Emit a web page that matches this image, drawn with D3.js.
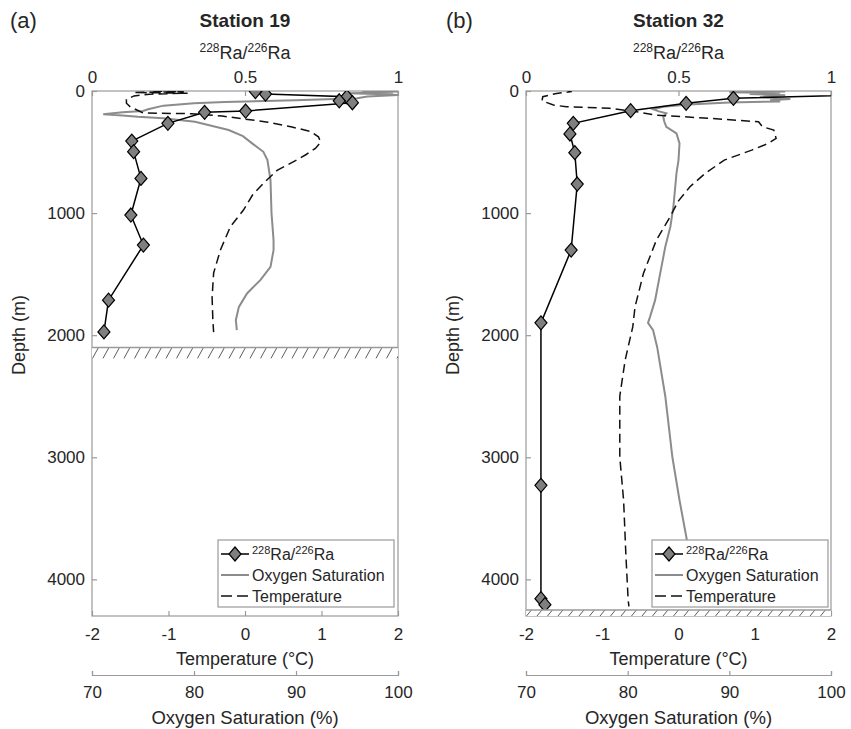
<!DOCTYPE html>
<html><head><meta charset="utf-8">
<script src="https://cdn.jsdelivr.net/npm/d3@7"></script>
<style>
html,body{margin:0;padding:0;background:#fff;}
text{font-family:"Liberation Sans",Arial,Helvetica,sans-serif;fill:#262626;}
</style></head>
<body><svg id="chart" width="851" height="729"></svg>
<script>
// ---------- data ----------
const depthTicks = [0, 1000, 2000, 3000, 4000];
const raTicks = [0, 0.5, 1];
const tempTicks = [-2, -1, 0, 1, 2];
const oxyTicks = [70, 80, 90, 100];
const panelLetters = ["(a)", "(b)"];
const stationNames = ["Station 19", "Station 32"];

// Station 19
const s19RaDepth = [5, 25, 47, 80, 96, 164, 175, 265, 410, 497, 716, 1016, 1262, 1713, 1973];
const s19Ra      = [0.534, 0.567, 0.833, 0.808, 0.851, 0.502, 0.368, 0.248, 0.130, 0.136, 0.160, 0.127, 0.168, 0.054, 0.039];
const s19TempDepth = [0, 6, 12, 18, 26, 40, 70, 100, 130, 160, 180, 186, 205, 230, 255, 293, 330, 375, 420, 470, 520, 570, 650, 750, 850, 975, 1110, 1300, 1490, 1690, 1880, 1975];
const s19Temp      = [-1.2, -0.8, -1.45, -0.75, -1.25, -1.45, -1.55, -1.55, -1.5, -1.4, -1.33, -0.7, -0.3, 0.0, 0.3, 0.6, 0.85, 0.96, 0.99, 0.92, 0.8, 0.66, 0.42, 0.25, 0.1, -0.02, -0.19, -0.32, -0.41, -0.43, -0.42, -0.41];
const s19OxyDepth = [0, 4, 8, 12, 18, 25, 33, 45, 60, 75, 90, 101, 120, 150, 164, 175, 191, 200, 211, 224, 252, 290, 320, 370, 429, 498, 566, 730, 1002, 1221, 1303, 1440, 1549, 1658, 1768, 1877, 1959];
const s19Oxy      = [96.5, 100, 97, 99.5, 95, 98, 100, 97, 96, 90, 83, 80, 77, 75.5, 75, 73, 71.1, 73, 74.5, 77, 80.1, 82, 83.4, 84.8, 85.7, 86.8, 87.2, 87.5, 87.6, 87.8, 87.8, 87.5, 86.5, 85.2, 84.4, 84.1, 84.2];
const s19Seafloor = [2100, 2190];

// Station 32
const s32RaDepth = [10, 60, 101, 161, 265, 352, 505, 762, 1303, 1899, 3230, 4158, 4207];
const s32Ra      = [1.44, 0.680, 0.525, 0.343, 0.155, 0.144, 0.160, 0.168, 0.148, 0.049, 0.049, 0.049, 0.062];
const s32TempDepth = [0, 5, 20, 47, 80, 115, 129, 142, 165, 197, 224, 252, 293, 320, 388, 429, 484, 566, 675, 784, 900, 1030, 1221, 1494, 1768, 1932, 2205, 2500, 3000, 3352, 3800, 4172, 4221];
const s32Temp      = [-1.45, -1.4, -1.6, -1.78, -1.79, -1.64, -1.47, -0.9, -0.6, -0.3, 0.41, 1.05, 1.1, 1.25, 1.28, 1.18, 0.96, 0.6, 0.35, 0.15, 0.0, -0.11, -0.29, -0.46, -0.57, -0.6, -0.7, -0.77, -0.77, -0.72, -0.69, -0.66, -0.65];
const s32OxyDepth = [0, 5, 10, 15, 25, 35, 50, 65, 75, 85, 95, 110, 130, 150, 165, 183, 211, 250, 293, 347, 429, 566, 675, 948, 1112, 1276, 1494, 1713, 1850, 1899, 1959, 2096, 2500, 3000, 3352, 3667, 4200];
const s32Oxy      = [93, 95.5, 90, 95, 92, 95.5, 93, 96, 94, 95, 90, 86, 83.5, 82.5, 83, 83.8, 83.5, 83.6, 83.8, 84.8, 85.1, 85.0, 84.8, 84.5, 84.2, 83.7, 83.2, 82.7, 82.2, 82.0, 82.5, 82.9, 83.7, 84.4, 85.1, 85.8, 86.6];
const s32Seafloor = [4250, 4300];

const legendLabels = ["Ra", "Oxygen Saturation", "Temperature"];

// ---------- drawing ----------
const svg = d3.select("#chart");
const FONT = '"Liberation Sans",Arial,Helvetica,sans-serif';
const BOXC = "#9a9a9a";
const plainNum = d => String(d);
const panels = [
  {x0: 92, x1: 398, labelX: 10, ylabX: 25, legX: 218,
   ra: s19Ra, raD: s19RaDepth, t: s19Temp, tD: s19TempDepth, o: s19Oxy, oD: s19OxyDepth, floor: s19Seafloor},
  {x0: 526, x1: 831, labelX: 446, ylabX: 459, legX: 652,
   ra: s32Ra, raD: s32RaDepth, t: s32Temp, tD: s32TempDepth, o: s32Oxy, oD: s32OxyDepth, floor: s32Seafloor}
];
const yTop = 91, yBot = 616;
const y = d3.scaleLinear().domain([0, 4300]).range([yTop, yBot]);

function raLabel(sel, x, yy, size, supSize, anchor) {
  const t = sel.append("text").attr("x", x).attr("y", yy).attr("text-anchor", anchor)
    .attr("font-size", size);
  t.append("tspan").attr("font-size", supSize).attr("dy", -size*0.4).text("228");
  t.append("tspan").attr("dy", size*0.4).text("Ra/");
  t.append("tspan").attr("font-size", supSize).attr("dy", -size*0.4).text("226");
  t.append("tspan").attr("dy", size*0.4).text("Ra");
  return t;
}

panels.forEach((p, i) => {
  const g = svg.append("g");
  const xRa = d3.scaleLinear().domain([0, 1]).range([p.x0, p.x1]);
  const xT = d3.scaleLinear().domain([-2, 2]).range([p.x0, p.x1]);
  const xO = d3.scaleLinear().domain([70, 100]).range([p.x0, p.x1]);
  const cx = (p.x0 + p.x1) / 2;

  const clipId = "clip" + i;
  svg.append("clipPath").attr("id", clipId).append("rect")
    .attr("x", p.x0).attr("y", yTop).attr("width", p.x1 - p.x0).attr("height", yBot - yTop);

  // panel letter & title
  g.append("text").attr("x", p.labelX).attr("y", 28).attr("font-size", 22).text(panelLetters[i]);
  g.append("text").attr("x", cx).attr("y", 27).attr("text-anchor", "middle")
    .attr("font-size", 19).attr("font-weight", "bold").text(stationNames[i]);
  raLabel(g, cx, 59, 18, 12, "middle");

  // plot area box
  g.append("rect").attr("x", p.x0).attr("y", yTop).attr("width", p.x1 - p.x0).attr("height", yBot - yTop)
    .attr("fill", "#fff").attr("stroke", BOXC).attr("stroke-width", 1.2);

  // axes
  const ax = (a) => a.tickSizeOuter(0);
  const left = g.append("g").attr("transform", `translate(${p.x0},0)`)
    .call(ax(d3.axisLeft(y).tickValues(depthTicks).tickSize(-5).tickPadding(7).tickFormat(plainNum)));
  const top = g.append("g").attr("transform", `translate(0,${yTop})`)
    .call(ax(d3.axisTop(xRa).tickValues(raTicks).tickSize(-5).tickPadding(8).tickFormat(plainNum)));
  const bot = g.append("g").attr("transform", `translate(0,${yBot})`)
    .call(ax(d3.axisBottom(xT).tickValues(tempTicks).tickSize(-5).tickPadding(12).tickFormat(plainNum)));
  const oxy = g.append("g").attr("transform", `translate(0,675)`)
    .call(d3.axisBottom(xO).tickValues(oxyTicks).tickSize(-4).tickSizeOuter(-4).tickPadding(11).tickFormat(plainNum));
  [left, top, bot].forEach(a => a.select(".domain").remove());
  [left, top, bot, oxy].forEach(a => {
    a.selectAll("line").attr("stroke", BOXC).attr("stroke-width", 1.2);
    a.selectAll("text").attr("font-size", 17).attr("font-family", FONT).attr("fill", "#262626");
  });
  oxy.select(".domain").attr("stroke", BOXC).attr("stroke-width", 1.2);

  g.append("text").attr("x", cx).attr("y", 665).attr("text-anchor", "middle").attr("font-size", 18)
    .text("Temperature (\u00B0C)");
  g.append("text").attr("x", cx).attr("y", 724).attr("text-anchor", "middle").attr("font-size", 18.5)
    .text("Oxygen Saturation (%)");
  g.append("text").attr("transform", `translate(${p.ylabX},335) rotate(-90)`).attr("text-anchor", "middle")
    .attr("font-size", 18).text("Depth (m)");

  const data = g.append("g").attr("clip-path", `url(#${clipId})`);

  // oxygen
  data.append("path").datum(p.oD.map((d, k) => [p.o[k], d]))
    .attr("fill", "none").attr("stroke", "#8c8c8c").attr("stroke-width", 2)
    .attr("d", d3.line().x(d => xO(d[0])).y(d => y(d[1])));
  // temperature
  data.append("path").datum(p.tD.map((d, k) => [p.t[k], d]))
    .attr("fill", "none").attr("stroke", "#111").attr("stroke-width", 1.5).attr("stroke-dasharray", "9,5")
    .attr("d", d3.line().x(d => xT(d[0])).y(d => y(d[1])));
  // Ra
  const raPts = p.raD.map((d, k) => [p.ra[k], d]);
  data.append("path").datum(raPts)
    .attr("fill", "none").attr("stroke", "#000").attr("stroke-width", 1.5)
    .attr("d", d3.line().x(d => xRa(d[0])).y(d => y(d[1])));
  const diamond = "M0,-7L6,0L0,7L-6,0Z";
  data.selectAll(".dia").data(raPts).enter().append("path")
    .attr("transform", d => `translate(${xRa(d[0])},${y(d[1])})`)
    .attr("d", diamond).attr("fill", "#7f7f7f").attr("stroke", "#000").attr("stroke-width", 1.2);

  // seafloor hatch
  const fy0 = y(p.floor[0]), fy1 = y(p.floor[1]);
  const hg = g.append("g").attr("clip-path", `url(#${clipId})`);
  hg.append("rect").attr("x", p.x0).attr("y", fy0).attr("width", p.x1 - p.x0).attr("height", fy1 - fy0).attr("fill", "#fff");
  const step = 10.5, slant = fy1 - fy0 > 8 ? 6 : 5;
  d3.range(p.x0 - 10, p.x1 + 10, step).forEach(xx => {
    hg.append("line").attr("x1", xx).attr("y1", fy1).attr("x2", xx + slant).attr("y2", fy0)
      .attr("stroke", "#333").attr("stroke-width", 0.8);
  });
  g.append("line").attr("x1", p.x0).attr("x2", p.x1).attr("y1", fy0).attr("y2", fy0)
    .attr("stroke", BOXC).attr("stroke-width", 1.5);

  // legend
  const lx = p.legX, ly = 540, lw = 176, lh = 67;
  const lg = g.append("g");
  lg.append("rect").attr("x", lx).attr("y", ly).attr("width", lw).attr("height", lh)
    .attr("fill", "#fff").attr("stroke", BOXC).attr("stroke-width", 1.2);
  const rows = [ly + 14, ly + 35, ly + 56];
  lg.append("line").attr("x1", lx + 3).attr("x2", lx + 31).attr("y1", rows[0]).attr("y2", rows[0]).attr("stroke", "#000").attr("stroke-width", 1.5);
  lg.append("path").attr("transform", `translate(${lx + 17},${rows[0]})`).attr("d", diamond)
    .attr("fill", "#7f7f7f").attr("stroke", "#000").attr("stroke-width", 1.2);
  lg.append("line").attr("x1", lx + 3).attr("x2", lx + 31).attr("y1", rows[1]).attr("y2", rows[1]).attr("stroke", "#8c8c8c").attr("stroke-width", 2);
  lg.append("line").attr("x1", lx + 3).attr("x2", lx + 31).attr("y1", rows[2]).attr("y2", rows[2]).attr("stroke", "#111").attr("stroke-width", 1.5).attr("stroke-dasharray", "11,5");
  raLabel(lg, lx + 34, rows[0] + 6, 16, 11, "start");
  lg.append("text").attr("x", lx + 34).attr("y", rows[1] + 6).attr("font-size", 16).text(legendLabels[1]);
  lg.append("text").attr("x", lx + 34).attr("y", rows[2] + 6).attr("font-size", 16).text(legendLabels[2]);
});
</script></body></html>
